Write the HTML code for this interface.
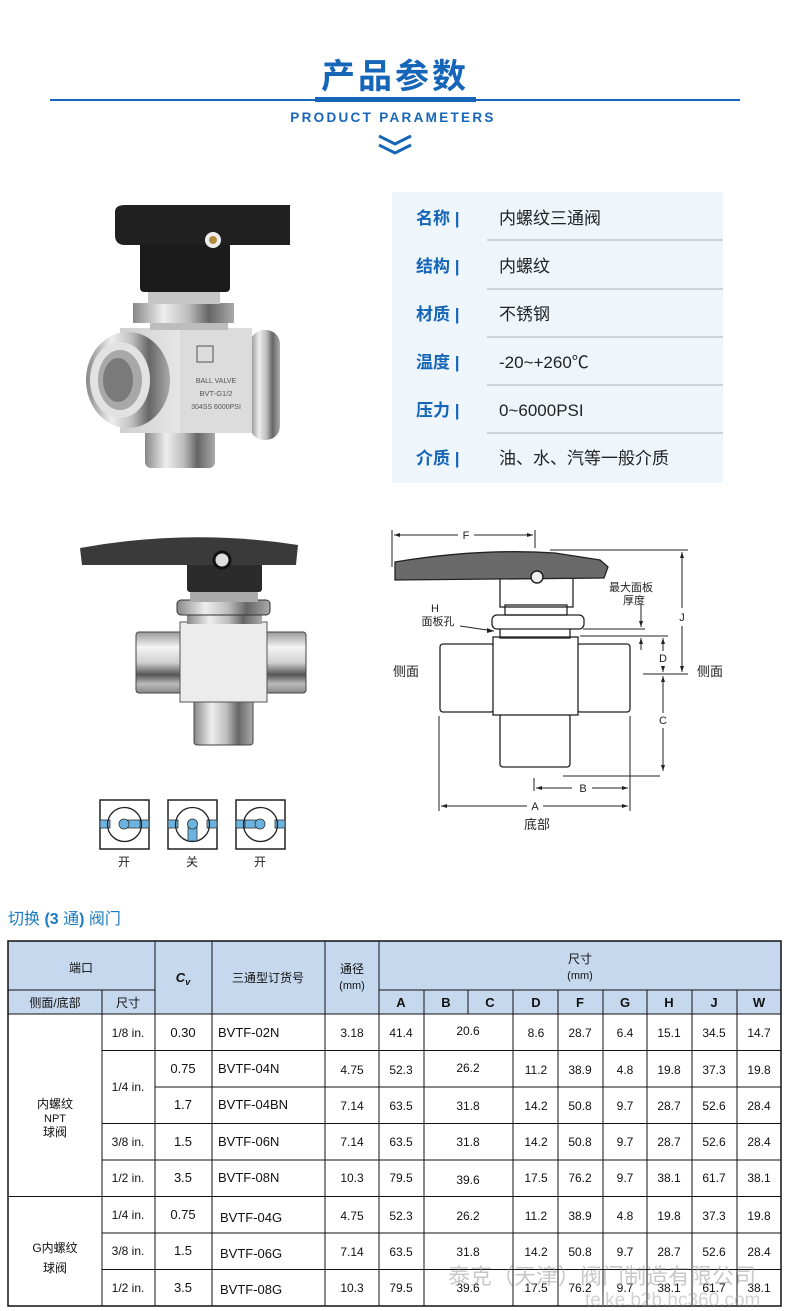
<!DOCTYPE html>
<html><head><meta charset="utf-8">
<style>
html,body{margin:0;padding:0;background:#fff;}
svg{display:block;}
text{font-family:"Liberation Sans","Noto Sans CJK SC",sans-serif;}
</style></head>
<body>
<svg width="790" height="1311" viewBox="0 0 790 1311" xmlns="http://www.w3.org/2000/svg">
<defs>
<linearGradient id="metalV" x1="0" y1="0" x2="0" y2="1">
<stop offset="0" stop-color="#9a9a9a"/><stop offset="0.25" stop-color="#f4f4f4"/><stop offset="0.5" stop-color="#d0d0d0"/><stop offset="0.7" stop-color="#555"/><stop offset="0.85" stop-color="#bbb"/><stop offset="1" stop-color="#888"/></linearGradient>
<linearGradient id="metalH" x1="0" y1="0" x2="1" y2="0">
<stop offset="0" stop-color="#888"/><stop offset="0.3" stop-color="#eee"/><stop offset="0.55" stop-color="#bdbdbd"/><stop offset="0.75" stop-color="#666"/><stop offset="1" stop-color="#aaa"/></linearGradient>
<linearGradient id="block" x1="0" y1="0" x2="1" y2="0">
<stop offset="0" stop-color="#cfcfcf"/><stop offset="0.5" stop-color="#e8e8e8"/><stop offset="1" stop-color="#b8b8b8"/></linearGradient>
</defs>

<!-- header -->
<text x="395" y="88" text-anchor="middle" font-size="34" font-weight="bold" fill="#1565b8" letter-spacing="3">产品参数</text>
<rect x="50" y="99" width="690" height="2" fill="#1565b8"/>
<rect x="315" y="97" width="161" height="5" fill="#1565b8"/>
<text x="393" y="122" text-anchor="middle" font-size="13.5" font-weight="bold" fill="#1565b8" letter-spacing="2.3">PRODUCT PARAMETERS</text>
<polyline points="379,136 395,144 411,136" fill="none" stroke="#1565b8" stroke-width="3"/>
<polyline points="379,145 395,153 411,145" fill="none" stroke="#1565b8" stroke-width="3"/>

<!-- spec panel -->
<rect x="392" y="192" width="331" height="291" fill="#eef6fc"/>
<g font-size="17" fill="#1565b8" font-weight="bold">
<text x="416" y="224">名称 |</text><text x="416" y="272">结构 |</text><text x="416" y="320">材质 |</text>
<text x="416" y="368">温度 |</text><text x="416" y="416">压力 |</text><text x="416" y="464">介质 |</text>
</g>
<g font-size="17" fill="#222">
<text x="499" y="224">内螺纹三通阀</text><text x="499" y="272">内螺纹</text><text x="499" y="320">不锈钢</text>
<text x="499" y="368">-20~+260℃</text><text x="499" y="416">0~6000PSI</text><text x="499" y="464">油、水、汽等一般介质</text>
</g>
<g stroke="#b8bfc6" stroke-width="1.2">
<line x1="487" y1="240" x2="723" y2="240"/><line x1="487" y1="289" x2="723" y2="289"/><line x1="487" y1="337" x2="723" y2="337"/>
<line x1="487" y1="385" x2="723" y2="385"/><line x1="487" y1="433" x2="723" y2="433"/>
</g>

<!-- photo valve -->
<rect x="250" y="330" width="30" height="110" rx="14" fill="url(#metalH)"/>
<rect x="145" y="415" width="70" height="53" rx="6" fill="url(#metalH)"/>
<rect x="120" y="328" width="132" height="105" fill="url(#block)"/>
<rect x="180" y="328" width="72" height="105" fill="#dcdcdc"/>
<ellipse cx="128" cy="380" rx="42" ry="48" fill="url(#metalH)"/>
<ellipse cx="120" cy="380" rx="30" ry="38" fill="#e2e2e2"/>
<ellipse cx="120" cy="380" rx="22" ry="30" fill="#a8a8a8"/>
<ellipse cx="118" cy="380" rx="15" ry="22" fill="#7a7a7a"/>
<rect x="150" y="318" width="78" height="12" fill="#bdbdbd"/>
<rect x="133" y="303" width="101" height="20" fill="url(#metalH)"/>
<rect x="148" y="288" width="72" height="16" fill="#c6c6c6"/>
<rect x="140" y="240" width="90" height="52" rx="4" fill="#1b1b1b"/>
<path d="M115,212 Q115,205 125,205 L290,205 L290,245 L125,245 Q115,245 115,235 Z" fill="#202020"/>
<circle cx="213" cy="240" r="8" fill="#eee"/><circle cx="213" cy="240" r="4" fill="#b08a40"/>
<rect x="197" y="346" width="16" height="16" fill="none" stroke="#555"/>
<text x="216" y="383" text-anchor="middle" font-size="7" fill="#555">BALL VALVE</text>
<text x="216" y="396" text-anchor="middle" font-size="7.5" fill="#555">BVT-G1/2</text>
<text x="216" y="409" text-anchor="middle" font-size="7" fill="#555">304SS 6000PSI</text>

<!-- illustration valve -->
<rect x="136" y="632" width="46" height="61" rx="3" fill="url(#metalV)" stroke="#444"/>
<rect x="265" y="632" width="41" height="61" rx="3" fill="url(#metalV)" stroke="#444"/>
<rect x="194" y="700" width="59" height="45" rx="3" fill="url(#metalH)" stroke="#444"/>
<rect x="180" y="622" width="87" height="80" fill="#ececec" stroke="#555"/>
<rect x="187" y="612" width="75" height="12" fill="url(#metalH)"/>
<rect x="177" y="600" width="93" height="15" rx="4" fill="url(#metalH)" stroke="#333"/>
<rect x="190" y="590" width="68" height="12" fill="#aaa"/>
<rect x="187" y="558" width="75" height="34" rx="3" fill="#2b2b2b"/>
<path d="M80,548 Q190,528 298,545 L296,565 L82,565 Z" fill="#3a3a3a"/>
<circle cx="222" cy="560" r="8" fill="#ddd" stroke="#111" stroke-width="3"/>

<!-- technical drawing -->
<g fill="none" stroke="#222" stroke-width="1.3">
<rect x="440" y="644" width="54" height="68" rx="3" fill="#fff"/>
<rect x="577" y="644" width="53" height="68" rx="3" fill="#fff"/>
<rect x="500" y="714" width="70" height="53" rx="3" fill="#fff"/>
<rect x="493" y="637" width="85" height="78" fill="#fff"/>
<rect x="500" y="628" width="70" height="10"/>
<rect x="492" y="615" width="92" height="14" rx="5" fill="#fff"/>
<rect x="505" y="605" width="62" height="10"/>
<rect x="500" y="577" width="73" height="30"/>
<path d="M395,562 Q480,548 555,553 L600,560 L608,567 L604,578 L395,580 Z" fill="#6a6a6a"/>
</g>
<circle cx="537" cy="577" r="6" fill="#eee" stroke="#222" stroke-width="1.5"/>
<g stroke="#222" stroke-width="1">
<line x1="392" y1="530" x2="392" y2="567"/><line x1="535" y1="530" x2="535" y2="548"/>
<line x1="394" y1="535" x2="458" y2="535"/><line x1="474" y1="535" x2="533" y2="535"/>
<line x1="550" y1="550" x2="688" y2="550"/><line x1="682" y1="552" x2="682" y2="608"/><line x1="682" y1="626" x2="682" y2="672"/>
<line x1="643" y1="674" x2="688" y2="674"/>
<line x1="583" y1="629" x2="645" y2="629"/><line x1="580" y1="636" x2="668" y2="636"/>
<line x1="641" y1="604" x2="641" y2="627"/><line x1="641" y1="638" x2="641" y2="650"/>
<line x1="663" y1="638" x2="663" y2="651"/><line x1="663" y1="666" x2="663" y2="672"/>
<line x1="663" y1="676" x2="663" y2="713"/><line x1="663" y1="728" x2="663" y2="771"/>
<line x1="563" y1="776" x2="660" y2="776"/>
<line x1="534" y1="778" x2="534" y2="791"/><line x1="630" y1="716" x2="630" y2="811"/><line x1="439" y1="716" x2="439" y2="811"/>
<line x1="536" y1="788" x2="572" y2="788"/><line x1="592" y1="788" x2="628" y2="788"/>
<line x1="441" y1="806" x2="527" y2="806"/><line x1="543" y1="806" x2="628" y2="806"/>
<line x1="460" y1="626" x2="494" y2="631"/>
</g>
<g fill="#222">
<polygon points="394,535 400,533 400,537"/><polygon points="533,535 527,533 527,537"/>
<polygon points="682,552 680,558 684,558"/><polygon points="682,672 680,666 684,666"/>
<polygon points="641,627 639,621 643,621"/><polygon points="641,638 639,644 643,644"/>
<polygon points="663,638 661,644 665,644"/><polygon points="663,672 661,666 665,666"/>
<polygon points="663,676 661,682 665,682"/><polygon points="663,771 661,765 665,765"/>
<polygon points="536,788 542,786 542,790"/><polygon points="628,788 622,786 622,790"/>
<polygon points="441,806 447,804 447,808"/><polygon points="628,806 622,804 622,808"/>
<polygon points="494,631 487,628 487,633"/>
</g>
<g font-size="11" fill="#222">
<text x="466" y="539" text-anchor="middle">F</text>
<text x="682" y="621" text-anchor="middle">J</text>
<text x="663" y="662" text-anchor="middle">D</text>
<text x="663" y="724" text-anchor="middle">C</text>
<text x="583" y="792" text-anchor="middle">B</text>
<text x="535" y="810" text-anchor="middle">A</text>
<text x="435" y="612" text-anchor="middle">H</text>
<text x="438" y="625" text-anchor="middle">面板孔</text>
<text x="631" y="591" text-anchor="middle">最大面板</text>
<text x="634" y="604" text-anchor="middle">厚度</text>
</g>
<g font-size="13" fill="#222">
<text x="393" y="676">侧面</text><text x="697" y="676">侧面</text><text x="537" y="829" text-anchor="middle">底部</text>
</g>

<!-- switch icons -->
<g stroke="#222" stroke-width="1.5" fill="#fff">
<rect x="100" y="800" width="49" height="49"/><rect x="168" y="800" width="49" height="49"/><rect x="236" y="800" width="49" height="49"/>
</g>
<g fill="#6cb4e0" stroke="#333" stroke-width="0.8">
<rect x="100" y="820" width="10" height="8"/><rect x="139" y="820" width="10" height="8"/>
<rect x="168" y="820" width="10" height="8"/><rect x="207" y="820" width="10" height="8"/>
<rect x="236" y="820" width="10" height="8"/><rect x="275" y="820" width="10" height="8"/>
</g>
<g fill="none" stroke="#222" stroke-width="1.3">
<circle cx="124.5" cy="824.5" r="17"/><circle cx="192.5" cy="824.5" r="17"/><circle cx="260.5" cy="824.5" r="17"/>
</g>
<g fill="#6cb4e0" stroke="#333" stroke-width="0.8">
<rect x="122" y="820" width="18" height="8"/><circle cx="124" cy="824" r="5"/>
<rect x="188" y="824" width="9" height="17"/><circle cx="192.5" cy="824" r="5"/>
<rect x="245" y="820" width="18" height="8"/><circle cx="260" cy="824" r="5"/>
</g>
<g font-size="12" fill="#222" text-anchor="middle">
<text x="124" y="866">开</text><text x="192" y="866">关</text><text x="260" y="866">开</text>
</g>

<!-- table title -->
<text x="8" y="924" font-size="16" fill="#1a7cc0">切换 <tspan font-weight="bold">(3</tspan> 通<tspan font-weight="bold">)</tspan> 阀门</text>

<!-- table -->
<rect x="8" y="941" width="773" height="73" fill="#c5d8ee"/>
<g stroke="#111" stroke-width="1" fill="none">
<rect x="8" y="941" width="773" height="365" stroke-width="1.5"/>
<line x1="8" y1="990" x2="155" y2="990"/><line x1="379" y1="990" x2="781" y2="990"/>
<line x1="8" y1="1014" x2="781" y2="1014"/>
<line x1="102" y1="990" x2="102" y2="1306"/>
<line x1="155" y1="941" x2="155" y2="1306"/><line x1="212" y1="941" x2="212" y2="1306"/>
<line x1="325" y1="941" x2="325" y2="1306"/><line x1="379" y1="941" x2="379" y2="1306"/>
<line x1="424" y1="990" x2="424" y2="1306"/><line x1="468" y1="990" x2="468" y2="1014"/>
<line x1="513" y1="990" x2="513" y2="1306"/><line x1="558" y1="990" x2="558" y2="1306"/>
<line x1="603" y1="990" x2="603" y2="1306"/><line x1="647" y1="990" x2="647" y2="1306"/>
<line x1="692" y1="990" x2="692" y2="1306"/><line x1="737" y1="990" x2="737" y2="1306"/>
<line x1="102" y1="1050.5" x2="781" y2="1050.5"/>
<line x1="155" y1="1087" x2="781" y2="1087"/>
<line x1="102" y1="1123.5" x2="781" y2="1123.5"/>
<line x1="102" y1="1160" x2="781" y2="1160"/>
<line x1="8" y1="1196.5" x2="781" y2="1196.5"/>
<line x1="102" y1="1233" x2="781" y2="1233"/>
<line x1="102" y1="1269.5" x2="781" y2="1269.5"/>
</g>
<g font-size="12" fill="#111" text-anchor="middle">
<text x="81" y="972">端口</text>
<text x="55" y="1007">侧面/底部</text><text x="128" y="1007">尺寸</text>
<text x="183" y="982" font-weight="bold" font-style="italic" font-size="13">C<tspan font-size="9" dy="3">v</tspan></text>
<text x="268" y="982">三通型订货号</text>
<text x="352" y="973">通径</text><text x="352" y="989" font-size="11">(mm)</text>
<text x="580" y="963">尺寸</text><text x="580" y="979" font-size="11">(mm)</text>
</g>
<g font-size="13" font-weight="bold" fill="#111" text-anchor="middle">
<text x="401" y="1007">A</text><text x="446" y="1007">B</text><text x="490" y="1007">C</text><text x="536" y="1007">D</text>
<text x="580" y="1007">F</text><text x="625" y="1007">G</text><text x="669" y="1007">H</text><text x="714" y="1007">J</text><text x="759" y="1007">W</text>
</g>
<g font-size="12" fill="#111" text-anchor="middle">
<text x="55" y="1108">内螺纹</text><text x="55" y="1122" font-size="11">NPT</text><text x="55" y="1136">球阀</text>
<text x="55" y="1252">G内螺纹</text><text x="55" y="1272">球阀</text>
<text x="128" y="1037">1/8 in.</text><text x="128" y="1091">1/4 in.</text>
<text x="128" y="1146">3/8 in.</text><text x="128" y="1182">1/2 in.</text>
<text x="128" y="1219">1/4 in.</text><text x="128" y="1255">3/8 in.</text><text x="128" y="1292">1/2 in.</text>
</g>
<g font-size="13" fill="#111">
<g text-anchor="middle">
<text x="183" y="1037">0.30</text><text x="183" y="1073">0.75</text><text x="183" y="1109">1.7</text><text x="183" y="1146">1.5</text><text x="183" y="1182">3.5</text>
<text x="183" y="1219">0.75</text><text x="183" y="1255">1.5</text><text x="183" y="1292">3.5</text>
</g>
<text x="218" y="1037">BVTF-02N</text><text x="218" y="1073">BVTF-04N</text><text x="218" y="1109">BVTF-04BN</text>
<text x="218" y="1146">BVTF-06N</text><text x="218" y="1182">BVTF-08N</text>
<text x="220" y="1222">BVTF-04G</text><text x="220" y="1258">BVTF-06G</text><text x="220" y="1294">BVTF-08G</text>
</g>
<g font-size="12" fill="#111" text-anchor="middle">
<g transform="translate(0,1037)"><text x="352">3.18</text><text x="401">41.4</text><text x="468" y="-2">20.6</text><text x="536">8.6</text><text x="580">28.7</text><text x="625">6.4</text><text x="669">15.1</text><text x="714">34.5</text><text x="759">14.7</text></g>
<g transform="translate(0,1074)"><text x="352">4.75</text><text x="401">52.3</text><text x="468" y="-2">26.2</text><text x="536">11.2</text><text x="580">38.9</text><text x="625">4.8</text><text x="669">19.8</text><text x="714">37.3</text><text x="759">19.8</text></g>
<g transform="translate(0,1110)"><text x="352">7.14</text><text x="401">63.5</text><text x="468">31.8</text><text x="536">14.2</text><text x="580">50.8</text><text x="625">9.7</text><text x="669">28.7</text><text x="714">52.6</text><text x="759">28.4</text></g>
<g transform="translate(0,1146)"><text x="352">7.14</text><text x="401">63.5</text><text x="468">31.8</text><text x="536">14.2</text><text x="580">50.8</text><text x="625">9.7</text><text x="669">28.7</text><text x="714">52.6</text><text x="759">28.4</text></g>
<g transform="translate(0,1182)"><text x="352">10.3</text><text x="401">79.5</text><text x="468" y="2">39.6</text><text x="536">17.5</text><text x="580">76.2</text><text x="625">9.7</text><text x="669">38.1</text><text x="714">61.7</text><text x="759">38.1</text></g>
<g transform="translate(0,1220)"><text x="352">4.75</text><text x="401">52.3</text><text x="468">26.2</text><text x="536">11.2</text><text x="580">38.9</text><text x="625">4.8</text><text x="669">19.8</text><text x="714">37.3</text><text x="759">19.8</text></g>
<g transform="translate(0,1256)"><text x="352">7.14</text><text x="401">63.5</text><text x="468">31.8</text><text x="536">14.2</text><text x="580">50.8</text><text x="625">9.7</text><text x="669">28.7</text><text x="714">52.6</text><text x="759">28.4</text></g>
<g transform="translate(0,1292)"><text x="352">10.3</text><text x="401">79.5</text><text x="468">39.6</text><text x="536">17.5</text><text x="580">76.2</text><text x="625">9.7</text><text x="669">38.1</text><text x="714">61.7</text><text x="759">38.1</text></g>
</g>
<!-- watermark -->
<text x="448" y="1284" font-size="22" fill="#9a9a9a" fill-opacity="0.55">泰克（天津）阀门制造有限公司</text>
<text x="585" y="1306" font-size="19" fill="#9a9a9a" fill-opacity="0.45">teike.b2b.hc360.com</text>
</svg>
</body></html>
